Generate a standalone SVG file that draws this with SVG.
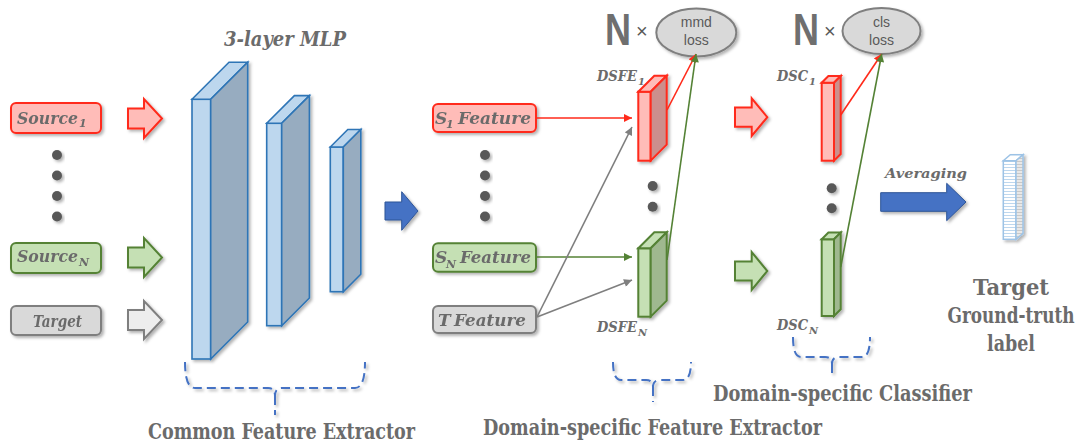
<svg xmlns="http://www.w3.org/2000/svg" width="1082" height="443" viewBox="0 0 1082 443">
<defs>
<filter id="sh" x="-20%" y="-20%" width="150%" height="150%">
<feDropShadow dx="2" dy="2" stdDeviation="1.5" flood-color="#000" flood-opacity="0.3"/>
</filter>
<marker id="mr" viewBox="0 0 10 10" refX="10" refY="5" markerWidth="10" markerHeight="8" markerUnits="userSpaceOnUse" orient="auto"><path d="M0,0 L10,5 L0,10 z" fill="#ff2a1a"/></marker>
<marker id="mg" viewBox="0 0 10 10" refX="10" refY="5" markerWidth="10" markerHeight="8" markerUnits="userSpaceOnUse" orient="auto"><path d="M0,0 L10,5 L0,10 z" fill="#548235"/></marker>
<marker id="mk" viewBox="0 0 10 10" refX="10" refY="5" markerWidth="10" markerHeight="8" markerUnits="userSpaceOnUse" orient="auto"><path d="M0,0 L10,5 L0,10 z" fill="#7f7f7f"/></marker>
<pattern id="stripe" width="4" height="3" patternUnits="userSpaceOnUse"><rect width="4" height="3" fill="#ffffff"/><rect y="2" width="4" height="1" fill="#bdd7ee"/></pattern>
<pattern id="stripe2" width="4" height="3" patternUnits="userSpaceOnUse"><rect width="4" height="3" fill="#e8e8e8"/><rect y="2" width="4" height="1" fill="#c8c8c8"/></pattern>
<style>
.red{fill:#ffbcb8;stroke:#ff2a1a;stroke-width:2}
.grn{fill:#c5e0b4;stroke:#548235;stroke-width:2}
.gry{fill:#d9d9d9;stroke:#7f7f7f;stroke-width:2}
.redS{fill:#cc8f8c;stroke:#ff2a1a;stroke-width:2}
.grnS{fill:#9fb88f;stroke:#548235;stroke-width:2}
.blu{fill:#bdd7ee;stroke:#2e75b6;stroke-width:1.6}
.bluS{fill:#97acc0;stroke:#2e75b6;stroke-width:1.6}
.barF{fill:url(#stripe);stroke:#9dc3e6;stroke-width:1.5}
.barS{fill:url(#stripe2);stroke:#9dc3e6;stroke-width:1.5}
.barT{fill:#ffffff;stroke:#9dc3e6;stroke-width:1.5}
.mi{font-family:"DejaVu Serif",serif;font-style:italic;font-weight:bold;fill:#6b6b6b}
.big{font-family:"DejaVu Serif",serif;font-stretch:condensed;font-weight:bold;fill:#6b6b6b;font-size:22px}
.sans{font-family:"Liberation Sans",Arial,sans-serif;fill:#595959}
.dot{fill:#595959}
.brk{fill:none;stroke:#4472c4;stroke-width:2;stroke-dasharray:9 5}
.sh{filter:url(#sh)}
.ln{stroke-width:1.6;fill:none}
</style>
</defs>
<rect width="1082" height="443" fill="#ffffff"/>

<!-- Inputs -->
<g id="source1" class="sh">
<rect x="11" y="103" width="90" height="30" rx="5" class="red"/>
<text x="17" y="123.5" class="mi" font-size="16" textLength="61" lengthAdjust="spacingAndGlyphs">Source</text>
<text x="79" y="127" class="mi" font-size="11">1</text>
</g>
<g id="dots1" class="sh">
<circle cx="57" cy="155" r="5" class="dot"/><circle cx="57" cy="175.5" r="5" class="dot"/><circle cx="57" cy="196" r="5" class="dot"/><circle cx="57" cy="216.5" r="5" class="dot"/>
</g>
<g id="sourceN" class="sh">
<rect x="11" y="243" width="90" height="30" rx="5" class="grn"/>
<text x="17" y="262" class="mi" font-size="16" textLength="61" lengthAdjust="spacingAndGlyphs">Source</text>
<text x="79" y="266" class="mi" font-size="11">N</text>
</g>
<g id="target" class="sh">
<rect x="11" y="306" width="90" height="29" rx="5" class="gry"/>
<text x="33" y="326.5" class="mi" font-size="16" textLength="49" lengthAdjust="spacingAndGlyphs">Target</text>
</g>

<!-- input arrows -->
<g id="inArrows" class="sh">
<path d="M128,108.5 H144 V99 L162,118.5 L144,138 V128.5 H128 Z" class="red"/>
<path d="M128,247.5 H144 V238 L162,257.5 L144,277 V267.5 H128 Z" class="grn"/>
<path d="M128,310 H144 V301 L162,320 L144,339 V330 H128 Z" fill="#ededed" stroke="#7f7f7f" stroke-width="2"/>
</g>

<!-- MLP -->
<text x="224" y="46" font-family="DejaVu Serif, serif" font-style="italic" font-weight="bold" font-size="20" fill="#6b6b6b" textLength="122" lengthAdjust="spacingAndGlyphs">3-layer MLP</text>
<g id="mlp1" class="sh">
<rect x="192" y="99.3" width="18.7" height="259.7" class="blu"/>
<polygon points="192,99.3 229,62.3 247.7,62.3 210.7,99.3" class="blu"/>
<polygon points="210.7,99.3 247.7,62.3 247.7,322 210.7,359" class="bluS"/>
</g>
<g id="mlp2" class="sh">
<rect x="266.7" y="123.3" width="15" height="202.4" class="blu"/>
<polygon points="266.7,123.3 294.4,95.6 309.4,95.6 281.7,123.3" class="blu"/>
<polygon points="281.7,123.3 309.4,95.6 309.4,298 281.7,325.7" class="bluS"/>
</g>
<g id="mlp3" class="sh">
<rect x="330.3" y="147" width="13" height="144.7" class="blu"/>
<polygon points="330.3,147 347.8,129.5 360.8,129.5 343.3,147" class="blu"/>
<polygon points="343.3,147 360.8,129.5 360.8,274.2 343.3,291.7" class="bluS"/>
</g>
<path class="brk sh" d="M185,362 Q185,388 195,388 H268 Q275,388 275,396 Q275,388 282,388 H355 Q365,388 365,362 M275,396 V415"/>
<text x="148" y="439" class="big" textLength="267" lengthAdjust="spacingAndGlyphs">Common Feature Extractor</text>

<g id="blueArrow" class="sh">
<path d="M385,202 H401.7 V191.7 L418,211 L401.7,230.3 V220 H385 Z" fill="#4472c4" stroke="#2f5597" stroke-width="1"/>
</g>

<!-- Features -->
<g id="s1feature" class="sh">
<rect x="433" y="104" width="103" height="28" rx="5" class="red"/>
<text x="435" y="124" class="mi" font-size="17">S</text>
<text x="446" y="128" class="mi" font-size="11">1</text>
<text x="458" y="124" class="mi" font-size="17" textLength="73" lengthAdjust="spacingAndGlyphs">Feature</text>
</g>
<g id="dots2" class="sh">
<circle cx="485" cy="155" r="5" class="dot"/><circle cx="485" cy="175.5" r="5" class="dot"/><circle cx="485" cy="196" r="5" class="dot"/><circle cx="485" cy="216.5" r="5" class="dot"/>
</g>
<g id="snfeature" class="sh">
<rect x="433" y="243.3" width="103" height="28.4" rx="5" class="grn"/>
<text x="435" y="263" class="mi" font-size="17">S</text>
<text x="446" y="267.5" class="mi" font-size="11">N</text>
<text x="460" y="263" class="mi" font-size="17" textLength="71" lengthAdjust="spacingAndGlyphs">Feature</text>
</g>
<g id="tfeature" class="sh">
<rect x="433" y="306" width="103" height="27" rx="5" class="gry"/>
<text x="438" y="326" class="mi" font-size="17">T</text>
<text x="454" y="326" class="mi" font-size="17" textLength="72" lengthAdjust="spacingAndGlyphs">Feature</text>
</g>

<!-- DSFE -->
<g id="dsfe1" class="sh">
<rect x="638.3" y="91.7" width="12.4" height="69" class="red"/>
<polygon points="638.3,91.7 654.3,75.7 666.7,75.7 650.7,91.7" class="red"/>
<polygon points="650.7,91.7 666.7,75.7 666.7,144.7 650.7,160.7" class="redS"/>
</g>
<text x="597" y="80.7" class="mi" font-size="14" textLength="40" lengthAdjust="spacingAndGlyphs">DSFE</text>
<text x="638" y="84.5" class="mi" font-size="10">1</text>
<g id="dots3" class="sh"><circle cx="652.7" cy="186" r="5" class="dot"/><circle cx="652.7" cy="206.7" r="5" class="dot"/></g>
<g id="dsfeN" class="sh">
<rect x="638.3" y="248.3" width="12.4" height="68.4" class="grn"/>
<polygon points="638.3,248.3 654.3,232.3 666.7,232.3 650.7,248.3" class="grn"/>
<polygon points="650.7,248.3 666.7,232.3 666.7,300.7 650.7,316.7" class="grnS"/>
</g>
<text x="597" y="331.7" class="mi" font-size="14" textLength="40" lengthAdjust="spacingAndGlyphs">DSFE</text>
<text x="638" y="335.5" class="mi" font-size="10">N</text>
<path class="brk sh" d="M613,362 Q613,380 621,380 H646 Q653,380 653,387 Q653,380 660,380 H683 Q691,380 691,362 M653,387 V402"/>
<text x="483" y="435" class="big" textLength="339" lengthAdjust="spacingAndGlyphs">Domain-specific Feature Extractor</text>

<!-- mmd loss -->
<g id="mmdloss">
<text x="605" y="45" font-family="Liberation Sans, Arial, sans-serif" font-weight="bold" font-size="44" fill="#6f6f6f" textLength="26" lengthAdjust="spacingAndGlyphs">N</text>
<text x="636" y="38" class="sans" font-size="20" fill="#6f6f6f">×</text>
<ellipse cx="696.3" cy="32.5" rx="40" ry="24" class="gry sh"/>
<text x="696.3" y="27" class="sans" font-size="14" text-anchor="middle">mmd</text>
<text x="696.3" y="45" class="sans" font-size="14" text-anchor="middle">loss</text>
</g>

<!-- DSC arrows -->
<g id="dscArrows" class="sh">
<path d="M735,107.5 H751.7 V98.3 L767.3,117.2 L751.7,136 V126.8 H735 Z" class="red"/>
<path d="M735,261.5 H751.7 V252 L767.3,271 L751.7,290 V280.5 H735 Z" class="grn"/>
</g>

<!-- DSC -->
<g id="dsc1" class="sh">
<rect x="821.7" y="82.7" width="12.3" height="78" class="red"/>
<polygon points="821.7,82.7 828.4,76 840.7,76 834,82.7" class="red"/>
<polygon points="834,82.7 840.7,76 840.7,154 834,160.7" class="redS"/>
</g>
<text x="777" y="80.7" class="mi" font-size="14" textLength="31" lengthAdjust="spacingAndGlyphs">DSC</text>
<text x="809" y="84.5" class="mi" font-size="10">1</text>
<g id="dots4" class="sh"><circle cx="831.7" cy="188.3" r="5" class="dot"/><circle cx="831.7" cy="208.3" r="5" class="dot"/></g>
<g id="dscN" class="sh">
<rect x="821.7" y="239.3" width="12.3" height="76.7" class="grn"/>
<polygon points="821.7,239.3 828.4,232.6 840.7,232.6 834,239.3" class="grn"/>
<polygon points="834,239.3 840.7,232.6 840.7,309.3 834,316" class="grnS"/>
</g>
<text x="777" y="330" class="mi" font-size="14" textLength="31" lengthAdjust="spacingAndGlyphs">DSC</text>
<text x="809" y="334" class="mi" font-size="10">N</text>
<path class="brk sh" d="M793,337 Q793,357 801,357 H825 Q832,357 832,364 Q832,357 839,357 H862 Q870,357 870,337 M832,364 V377"/>
<text x="713" y="401" class="big" textLength="259" lengthAdjust="spacingAndGlyphs">Domain-specific Classifier</text>

<!-- cls loss -->
<g id="clsloss">
<text x="793" y="45" font-family="Liberation Sans, Arial, sans-serif" font-weight="bold" font-size="44" fill="#6f6f6f" textLength="26" lengthAdjust="spacingAndGlyphs">N</text>
<text x="824" y="38" class="sans" font-size="20" fill="#6f6f6f">×</text>
<ellipse cx="881.5" cy="31" rx="39" ry="23" class="gry sh"/>
<text x="881.5" y="27" class="sans" font-size="14" text-anchor="middle">cls</text>
<text x="881.5" y="45" class="sans" font-size="14" text-anchor="middle">loss</text>
</g>

<!-- Averaging -->
<g id="averaging">
<text x="885" y="178" class="mi" font-size="13" textLength="82" lengthAdjust="spacingAndGlyphs">Averaging</text>
<path class="sh" d="M880.7,192.7 H946.7 V183.3 L966,202 L946.7,220.7 V211.3 H880.7 Z" fill="#4472c4" stroke="#2f5597" stroke-width="1"/>
</g>

<!-- target label -->
<g id="targetLabel" class="sh">
<rect x="1003.3" y="160.7" width="12.7" height="78.6" class="barF"/>
<polygon points="1003.3,160.7 1010.3,154.7 1023,154.7 1016,160.7" class="barT"/>
<polygon points="1016,160.7 1023,154.7 1023,233.3 1016,239.3" class="barS"/>
</g>
<g id="targetText">
<text x="1011" y="295" class="big" text-anchor="middle" textLength="76" lengthAdjust="spacingAndGlyphs">Target</text>
<text x="1011" y="323" class="big" font-size="21" text-anchor="middle" textLength="127" lengthAdjust="spacingAndGlyphs">Ground-truth</text>
<text x="1011" y="351" class="big" text-anchor="middle" textLength="48" lengthAdjust="spacingAndGlyphs">label</text>
</g>

<!-- connectors -->
<g id="connectors">
<line x1="536" y1="118" x2="632" y2="118" stroke="#ff2a1a" class="ln" marker-end="url(#mr)"/>
<line x1="536" y1="257" x2="632" y2="257" stroke="#548235" class="ln" marker-end="url(#mg)"/>
<line x1="537" y1="317" x2="632" y2="127" stroke="#7f7f7f" class="ln" marker-end="url(#mk)"/>
<line x1="537" y1="317" x2="632" y2="280" stroke="#7f7f7f" class="ln" marker-end="url(#mk)"/>
<line x1="667" y1="110" x2="696" y2="54" stroke="#ff2a1a" class="ln" marker-end="url(#mr)"/>
<line x1="667" y1="260" x2="696" y2="54" stroke="#548235" class="ln" marker-end="url(#mg)"/>
<line x1="840.7" y1="115" x2="881.7" y2="54" stroke="#ff2a1a" class="ln" marker-end="url(#mr)"/>
<line x1="840.7" y1="267" x2="881.7" y2="54" stroke="#548235" class="ln" marker-end="url(#mg)"/>
</g>
</svg>
